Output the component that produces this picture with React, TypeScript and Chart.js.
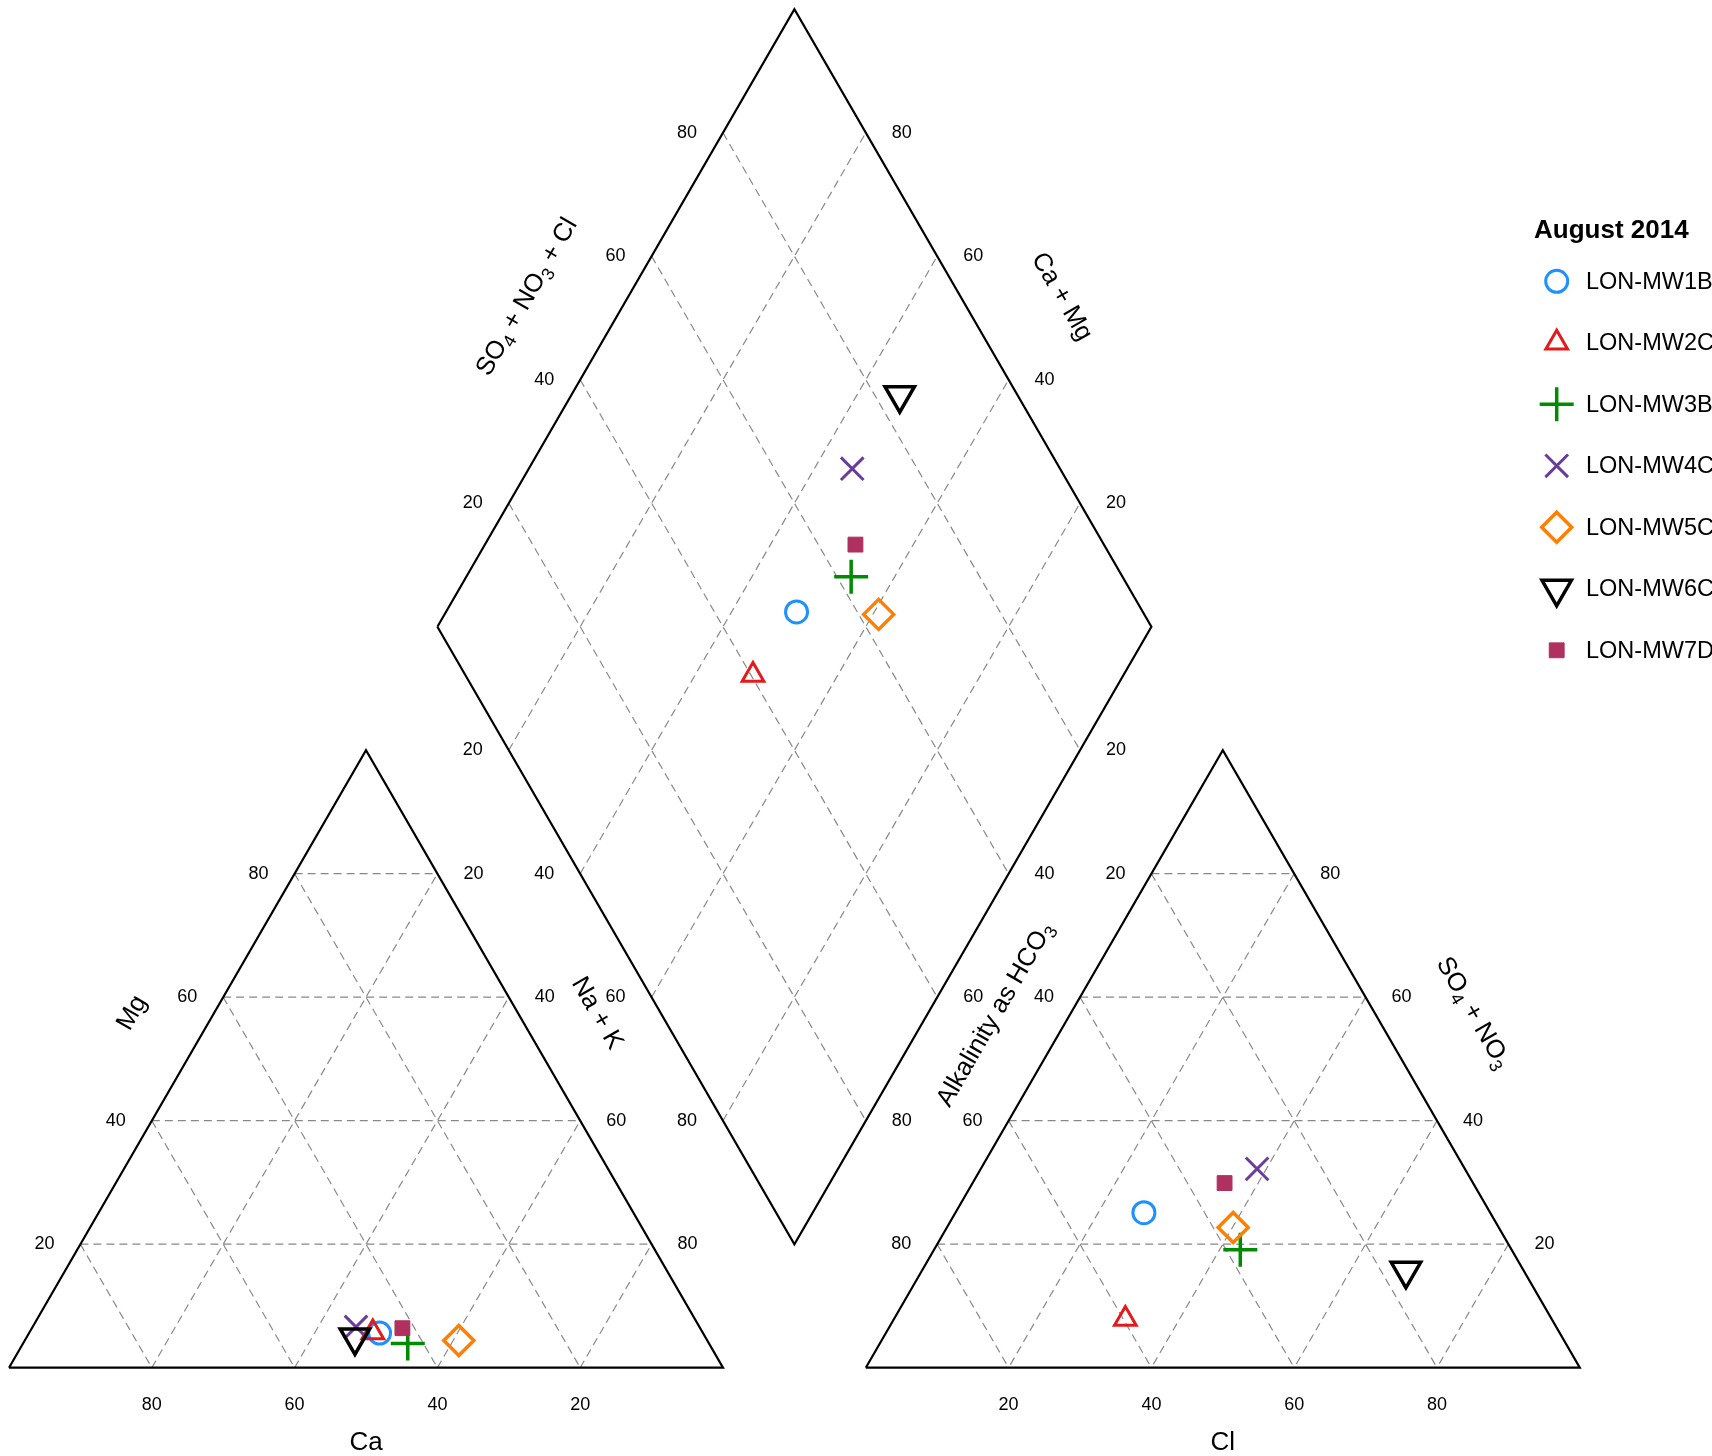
import React, { useEffect, useRef } from 'react';
import { Chart, registerables } from 'chart.js';
import { drawPoint } from 'chart.js/helpers';

Chart.register(...registerables);

// ---------------- DATA ----------------
const SAMPLES = ['LON-MW1B', 'LON-MW2C', 'LON-MW3B', 'LON-MW4C', 'LON-MW5C', 'LON-MW6C', 'LON-MW7D'];
// cations (% meq)
const CA = [45.3, 46.2, 42.2, 48.1, 34.8, 49.1, 41.7];
const MG = [5.6, 5.7, 3.9, 6.6, 4.4, 4.9, 6.4];
const NAK = [49.1, 48.1, 53.9, 45.3, 60.8, 46.0, 51.9];
// anions (% meq)
const HCO3 = [48.5, 59.7, 38.0, 29.1, 37.2, 16.5, 34.8];
const CL = [26.4, 32.4, 42.9, 38.7, 40.1, 67.8, 35.3];
const SO4NO3 = [25.1, 7.9, 19.1, 32.2, 22.7, 15.7, 29.9];
const GRID_VALUES = [20, 40, 60, 80];
const TICK_LABELS = ['20', '40', '60', '80'];
const LEGEND_TITLE = 'August 2014';

// ---------------- STYLE ----------------
const W = 1712;
const H = 1456;
const FONT = '"Liberation Sans", Arial, Helvetica, sans-serif';
const COLORS = ['#1E90FF', '#E31A1C', '#008B00', '#6A3D9A', '#FF7F00', '#000000', '#B03060'];
const MARKERS = [
  { style: 'circle', r: 11, w: 3, rot: 0, fill: false },
  { style: 'triangle', r: 12.5, w: 3, rot: 0, fill: false },
  { style: 'cross', r: 17, w: 3.5, rot: 0, fill: false },
  { style: 'crossRot', r: 16, w: 3, rot: 0, fill: false },
  { style: 'rectRot', r: 15, w: 3.5, rot: 0, fill: false },
  { style: 'triangle', r: 17, w: 3.5, rot: 180, fill: false },
  { style: 'rect', r: 10.5, w: 1, rot: 0, fill: true },
];

// scale: px per unit, origin of left triangle at pixel (9, 1367.7)
const PPU_X = 7.14;
const PPU_Y = 7.13;
const X_MIN = -9 / PPU_X;
const X_MAX = X_MIN + W / PPU_X;
const Y_MAX = 1367.7 / PPU_Y;
const Y_MIN = Y_MAX - H / PPU_Y;

const SQ = Math.sqrt(3) / 2;

// ---------------- GEOMETRY ----------------
type P = { x: number; y: number };
const cat = (ca: number, mg: number, na: number): P => {
  const t = ca + mg + na;
  return { x: ((na + mg / 2) / t) * 100, y: (mg / t) * 100 * SQ };
};
const ani = (h: number, cl: number, so: number): P => {
  const t = h + cl + so;
  return { x: 120 + ((cl + so / 2) / t) * 100, y: (so / t) * 100 * SQ };
};
// c = Na+K fraction, a = (Cl+SO4) fraction
const dia = (c: number, a: number): P => ({ x: 60 + 50 * c + 50 * a, y: SQ * (120 + 100 * (a - c)) });

const BREAK: P = { x: NaN, y: NaN };

function buildGrid(): P[] {
  const pts: P[] = [];
  const seg = (a: P, b: P) => {
    pts.push(a, b, BREAK);
  };
  for (const v of GRID_VALUES) {
    seg(cat(100 - v, v, 0), cat(0, v, 100 - v));
    seg(cat(v, 100 - v, 0), cat(v, 0, 100 - v));
    seg(cat(100 - v, 0, v), cat(0, 100 - v, v));
    seg(ani(100 - v, 0, v), ani(0, 100 - v, v));
    seg(ani(v, 0, 100 - v), ani(v, 100 - v, 0));
    seg(ani(0, v, 100 - v), ani(100 - v, v, 0));
    seg(dia(v / 100, 0), dia(v / 100, 1));
    seg(dia(0, v / 100), dia(1, v / 100));
  }
  return pts;
}

function buildOutline(): P[] {
  return [
    cat(100, 0, 0), cat(0, 0, 100), cat(0, 100, 0), cat(100, 0, 0), BREAK,
    ani(100, 0, 0), ani(0, 100, 0), ani(0, 0, 100), ani(100, 0, 0), BREAK,
    dia(0, 0), dia(1, 0), dia(1, 1), dia(0, 1), dia(0, 0),
  ];
}

type Tick = { p: P; label: string; dx: number; dy: number };
function buildTicks(): Tick[] {
  const out: Tick[] = [];
  GRID_VALUES.forEach((v, i) => {
    const label = TICK_LABELS[i];
    out.push({ p: cat(v, 0, 100 - v), label, dx: 0, dy: 37 });
    out.push({ p: cat(100 - v, v, 0), label, dx: -36, dy: 0 });
    out.push({ p: cat(0, 100 - v, v), label, dx: 36, dy: 0 });
    out.push({ p: ani(100 - v, v, 0), label, dx: 0, dy: 37 });
    out.push({ p: ani(v, 0, 100 - v), label, dx: -36, dy: 0 });
    out.push({ p: ani(0, 100 - v, v), label, dx: 36, dy: 0 });
    out.push({ p: dia(0, v / 100), label, dx: -36, dy: 0 });
    out.push({ p: dia(1 - v / 100, 1), label, dx: 36, dy: 0 });
    out.push({ p: dia(v / 100, 0), label, dx: -36, dy: 0 });
    out.push({ p: dia(1, 1 - v / 100), label, dx: 36, dy: 0 });
  });
  return out;
}

type Run = { t: string; sub?: boolean };
const TITLES: { runs: Run[]; p: P; rot: number; size: number }[] = [
  { runs: [{ t: 'Ca' }], p: { x: 50, y: -10.3 }, rot: 0, size: 26 },
  { runs: [{ t: 'Cl' }], p: { x: 170, y: -10.3 }, rot: 0, size: 26 },
  { runs: [{ t: 'Mg' }], p: { x: 17.0, y: 49.9 }, rot: -60, size: 25.5 },
  { runs: [{ t: 'Na + K' }], p: { x: 82.6, y: 49.85 }, rot: 60, size: 25.5 },
  { runs: [{ t: 'Alkalinity as HCO' }, { t: '3', sub: true }], p: { x: 137.9, y: 49.7 }, rot: -60, size: 25.5 },
  { runs: [{ t: 'SO' }, { t: '4', sub: true }, { t: ' + NO' }, { t: '3', sub: true }], p: { x: 205.3, y: 49.9 }, rot: 60, size: 25.5 },
  {
    runs: [{ t: 'SO' }, { t: '4', sub: true }, { t: ' + NO' }, { t: '3', sub: true }, { t: ' + Cl' }],
    p: { x: 72.3, y: 150.3 },
    rot: -60,
    size: 25.5,
  },
  { runs: [{ t: 'Ca + Mg' }], p: { x: 147.7, y: 150.35 }, rot: 60, size: 25.5 },
];

function drawRich(ctx: CanvasRenderingContext2D, runs: Run[], x: number, y: number, rot: number, size: number) {
  const sub = size * 0.7;
  const fontOf = (s: number) => `${s}px ${FONT}`;
  let total = 0;
  const widths = runs.map((r) => {
    ctx.font = fontOf(r.sub ? sub : size);
    const w = ctx.measureText(r.t).width;
    total += w;
    return w;
  });
  ctx.save();
  ctx.translate(x, y);
  ctx.rotate((rot * Math.PI) / 180);
  ctx.textAlign = 'left';
  ctx.textBaseline = 'alphabetic';
  let cx = -total / 2;
  const base = size * 0.36;
  runs.forEach((r, i) => {
    ctx.font = fontOf(r.sub ? sub : size);
    ctx.fillText(r.t, cx, base + (r.sub ? size * 0.22 : 0));
    cx += widths[i];
  });
  ctx.restore();
}

const textPlugin = {
  id: 'piperText',
  afterDraw(chart: any) {
    const ctx: CanvasRenderingContext2D = chart.ctx;
    const xs = chart.scales.x;
    const ys = chart.scales.y;
    const px = (p: P) => [xs.getPixelForValue(p.x), ys.getPixelForValue(p.y)];
    ctx.save();
    ctx.fillStyle = '#000';
    ctx.font = `18px ${FONT}`;
    ctx.textAlign = 'center';
    ctx.textBaseline = 'middle';
    for (const t of buildTicks()) {
      const [x, y] = px(t.p);
      ctx.fillText(t.label, x + t.dx, y + t.dy);
    }
    for (const t of TITLES) {
      const [x, y] = px(t.p);
      drawRich(ctx, t.runs, x, y, t.rot, t.size);
    }
    // legend
    ctx.textAlign = 'left';
    ctx.textBaseline = 'middle';
    ctx.font = `bold 26px ${FONT}`;
    ctx.fillText(LEGEND_TITLE, 1534, 231);
    ctx.font = `23.5px ${FONT}`;
    SAMPLES.forEach((name, i) => {
      const y = 281.3 + i * 61.5;
      const m = MARKERS[i];
      ctx.save();
      ctx.strokeStyle = COLORS[i];
      ctx.fillStyle = m.fill ? COLORS[i] : 'rgba(0,0,0,0)';
      ctx.lineWidth = m.w;
      drawPoint(ctx, { pointStyle: m.style as any, radius: m.r, rotation: m.rot, borderWidth: m.w }, 1556.7, y);
      ctx.restore();
      ctx.fillStyle = '#000';
      ctx.fillText(name, 1586, y + 1);
    });
    ctx.restore();
  },
};

export default function App() {
  const ref = useRef<HTMLCanvasElement>(null);
  useEffect(() => {
    const canvas = ref.current;
    if (!canvas) return;
    const sampleSets = SAMPLES.map((name, i) => {
      const c = NAK[i] / (CA[i] + MG[i] + NAK[i]);
      const a = (CL[i] + SO4NO3[i]) / (HCO3[i] + CL[i] + SO4NO3[i]);
      const m = MARKERS[i];
      return {
        label: name,
        data: [cat(CA[i], MG[i], NAK[i]), ani(HCO3[i], CL[i], SO4NO3[i]), dia(c, a)],
        showLine: false,
        pointStyle: m.style as any,
        pointRadius: m.r,
        pointBorderWidth: m.w,
        pointRotation: m.rot,
        pointBorderColor: COLORS[i],
        pointBackgroundColor: m.fill ? COLORS[i] : 'rgba(0,0,0,0)',
        borderColor: COLORS[i],
        backgroundColor: m.fill ? COLORS[i] : 'rgba(0,0,0,0)',
        order: SAMPLES.length - i,
        clip: false as any,
      };
    });
    const chart = new Chart(canvas, {
      type: 'scatter',
      data: {
        datasets: [
          ...sampleSets,
          {
            label: 'outline',
            data: buildOutline(),
            showLine: true,
            pointRadius: 0,
            borderColor: '#000',
            borderWidth: 2.2,
            borderJoinStyle: 'miter',
            fill: false,
            tension: 0,
            spanGaps: false,
            order: 20,
          } as any,
          {
            label: 'grid',
            data: buildGrid(),
            showLine: true,
            pointRadius: 0,
            borderColor: '#888888',
            borderWidth: 1.2,
            borderDash: [8, 5],
            fill: false,
            tension: 0,
            spanGaps: false,
            order: 30,
          } as any,
        ],
      },
      options: {
        responsive: false,
        devicePixelRatio: 1,
        animation: false,
        events: [],
        layout: { padding: 0, autoPadding: false },
        plugins: { legend: { display: false }, tooltip: { enabled: false } },
        scales: {
          x: { type: 'linear', min: X_MIN, max: X_MAX, display: false },
          y: { type: 'linear', min: Y_MIN, max: Y_MAX, display: false },
        },
      } as any,
      plugins: [textPlugin],
    });
    return () => chart.destroy();
  }, []);
  return (
    <div style={{ position: 'fixed', left: 0, top: 0, width: W, height: H, background: '#fff' }}>
      <canvas ref={ref} width={W} height={H} style={{ display: 'block', width: W, height: H }} />
    </div>
  );
}
